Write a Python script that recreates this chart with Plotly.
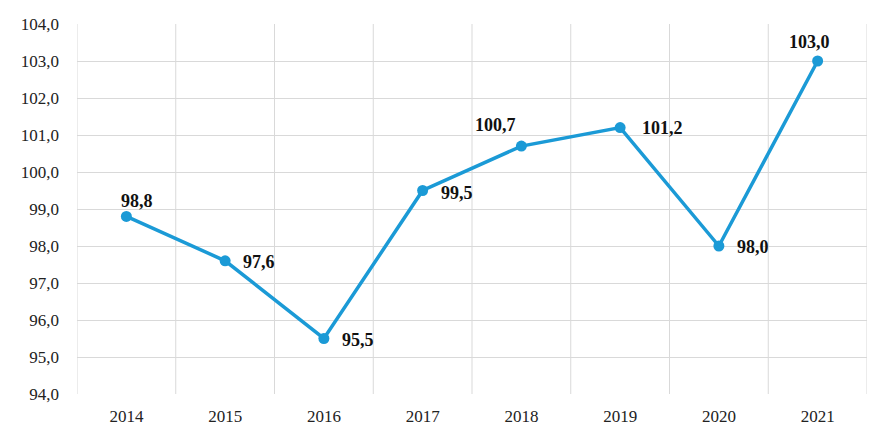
import plotly.graph_objects as go

years = ["2014", "2015", "2016", "2017", "2018", "2019", "2020", "2021"]
values = [98.8, 97.6, 95.5, 99.5, 100.7, 101.2, 98.0, 103.0]
y_ticks = [94, 95, 96, 97, 98, 99, 100, 101, 102, 103, 104]
y_tick_labels = ["94,0", "95,0", "96,0", "97,0", "98,0", "99,0", "100,0", "101,0", "102,0", "103,0", "104,0"]
# label offsets (px) for each data label
label_dx = [11, 34, 34, 34, -26, 42, 34, -8]
label_dy = [15, -1, -1, -2, 21, 0, -1, 19]

color = "#1b9ad6"
fnt = "Liberation Serif, Times New Roman, serif"
grid = "#d9d9d9"

fig = go.Figure()
fig.add_trace(go.Scatter(
    x=list(range(len(years))), y=values, mode="lines+markers",
    line=dict(color=color, width=3.5),
    marker=dict(color=color, size=11),
    showlegend=False, hoverinfo="skip",
))
for i, (yv, dx, dy) in enumerate(zip(values, label_dx, label_dy)):
    fig.add_annotation(
        x=i, y=yv, text="<b>" + f"{yv:.1f}".replace(".", ",") + "</b>",
        showarrow=False, xshift=dx, yshift=dy,
        font=dict(family=fnt, size=18, color="#111111"),
    )

fig.update_layout(
    width=881, height=444,
    margin=dict(l=69, r=22, t=16, b=58),
    paper_bgcolor="white", plot_bgcolor="white",
    font=dict(family=fnt, size=17, color="#222222"),
)
fig.update_xaxes(
    range=[-0.5, 7.5], tickvals=list(range(len(years))), ticktext=years,
    showgrid=False, showline=False, ticks="", zeroline=False,
    automargin=False, ticklabelstandoff=10,
    tickfont=dict(family=fnt, size=17, color="#222222"),
)
fig.update_yaxes(
    range=[94, 104], tickvals=y_ticks, ticktext=y_tick_labels,
    showgrid=True, gridcolor=grid, gridwidth=1,
    zeroline=False, showline=False, ticks="",
    automargin=False, ticklabelstandoff=17,
    tickfont=dict(family=fnt, size=17, color="#222222"),
)
# vertical gridlines at category boundaries
for b in range(len(years) + 1):
    fig.add_shape(type="line", xref="x", yref="paper", x0=b - 0.5, x1=b - 0.5, y0=0, y1=1,
                  line=dict(color=grid, width=1), layer="below")

fig.write_html("out.html")
